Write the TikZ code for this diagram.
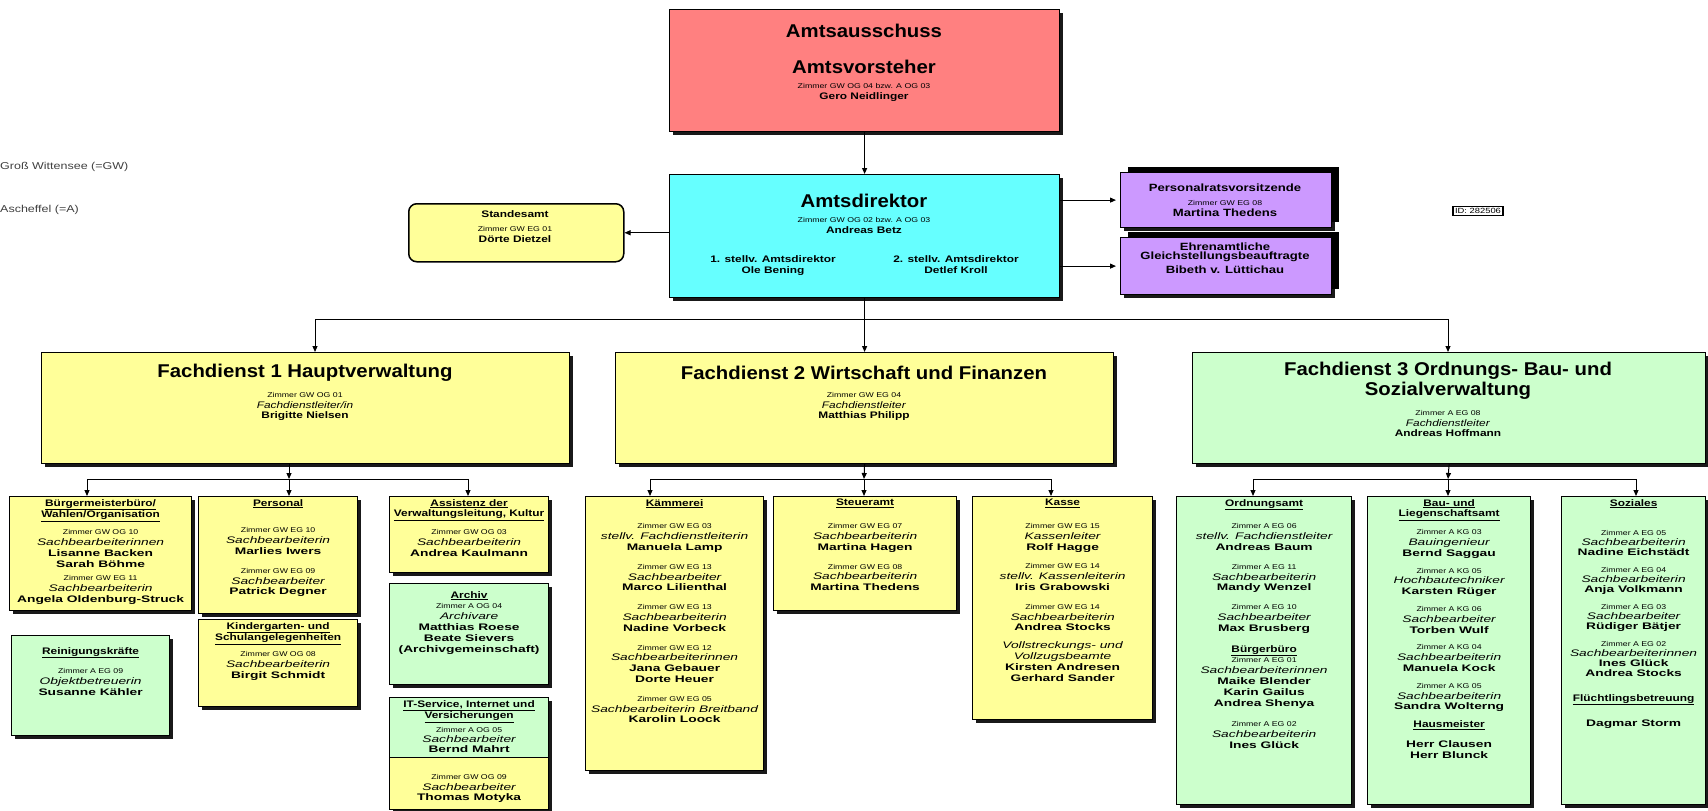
\documentclass[tikz,border=0pt]{standalone}
\usepackage{fontspec}
\setmainfont{Liberation Sans}[FakeStretch=1.25]
\newfontfamily\titlefont{Liberation Sans}[FakeStretch=1.1]
\newfontfamily\widefont{Liberation Sans}[FakeStretch=1.45]
\usepackage{tikz}
\usetikzlibrary{arrows.meta,positioning,calc,shadows}
\usepackage{xcolor}
\definecolor{amtred}{RGB}{255,128,128}
\definecolor{amtcyan}{RGB}{102,255,255}
\definecolor{amtlilac}{RGB}{204,153,255}
\definecolor{amtyellow}{RGB}{255,255,153}
\definecolor{amtgreen}{RGB}{204,255,204}
\newcommand{\zi}[1]{{\fontsize{7}{8}\selectfont #1}}
\newcommand{\pname}[1]{{\widefont\bfseries #1}}
\newcommand{\role}[1]{{\widefont\itshape #1}}
\newcommand{\unithead}[1]{\textbf{\underline{#1}}}

\begin{document}
\begin{tikzpicture}[x=1pt, y=-1pt,
    unit/.style={rectangle, draw=black, line width=1.2pt, anchor=north west, inner sep=0pt,
        drop shadow={shadow xshift=3pt, shadow yshift=-3pt, fill=black, opacity=0.9}},
    unitup/.style={unit, drop shadow={shadow xshift=7pt, shadow yshift=6pt, fill=black, opacity=1}},
    txt/.style={anchor=north, align=center, inner sep=0pt, font=\fontsize{9.5}{10.8}\selectfont},
    title/.style={align=center, inner sep=0pt, font=\titlefont\fontsize{18.5}{20}\selectfont\bfseries},
    arr/.style={-{Triangle[length=6pt, width=5pt]}, line width=1pt},
    bus/.style={line width=1pt}
]
    \fill[white] (0,0) rectangle (1708,811);
    \useasboundingbox (0,0) rectangle (1708,811);

    \node[anchor=west, inner sep=0pt, font=\fontsize{10}{12}\selectfont, text=black!75] (gw) at (0,167) {Groß Wittensee (=GW)};
    \node[anchor=west, inner sep=0pt, font=\fontsize{10}{12}\selectfont, text=black!75] (asch) at (0,210) {Ascheffel (=A)};
    \node[draw=black, line width=1.2pt, fill=white, inner sep=2pt, font=\fontsize{7.5}{9}\selectfont] (id) at (1478,211) {ID: 282506};

    % Leitung
    \node[unit, fill=amtred, minimum width=390, minimum height=122] (aus) at (669,9) {};
    \node[title] (ausname) at (864,31) {Amtsausschuss};
    \node[title] (vorname) at (864,67) {Amtsvorsteher};
    \node[txt] (vortxt) at (864,83) {\zi{Zimmer GW OG 04 bzw. A OG 03}\\\textbf{Gero Neidlinger}};

    \node[unit, fill=amtcyan, minimum width=390, minimum height=123] (dir) at (669,174) {};
    \node[title] (dirname) at (864,201) {Amtsdirektor};
    \node[txt] (dirtxt) at (864,217) {\zi{Zimmer GW OG 02 bzw. A OG 03}\\\textbf{Andreas Betz}};
    \node[txt, font=\fontsize{9.5}{11}\selectfont\bfseries] (stv1) at (773,255) {1. stellv. Amtsdirektor\\Ole Bening};
    \node[txt, font=\fontsize{9.5}{11}\selectfont\bfseries] (stv2) at (956,255) {2. stellv. Amtsdirektor\\Detlef Kroll};

    \node[rectangle, draw=black, line width=1.5pt, rounded corners=8pt, fill=amtyellow, anchor=north west,
        minimum width=215, minimum height=58] (std) at (408,203) {};
    \node[txt] (stdtxt) at (515,210) {\textbf{Standesamt}\\[4pt]\zi{Zimmer GW EG 01}\\\textbf{Dörte Dietzel}};

    \node[unitup, fill=amtlilac, minimum width=211, minimum height=55] (prv) at (1120,172) {};
    \node[txt, font=\fontsize{10.5}{11}\selectfont] (prvtxt) at (1225,184) {\textbf{Personalratsvorsitzende}\\[3pt]\zi{Zimmer GW EG 08}\\\textbf{Martina Thedens}};
    \node[unitup, fill=amtlilac, minimum width=211, minimum height=57] (gba) at (1120,237) {};
    \node[txt, font=\fontsize{10.5}{11}\selectfont] (gbatxt) at (1225,243) {\textbf{Ehrenamtliche}\\[-2pt]\textbf{Gleichstellungsbeauftragte}\\[3pt]\textbf{Bibeth v. Lüttichau}};

    % Fachdienste
    \node[unit, fill=amtyellow, minimum width=528, minimum height=111] (fd1) at (41,352) {};
    \node[title] (fd1name) at (305,373) {Fachdienst 1 Hauptverwaltung};
    \node[txt] (fd1txt) at (305,392) {\zi{Zimmer GW OG 01}\\\emph{Fachdienstleiter/in}\\\textbf{Brigitte Nielsen}};

    \node[unit, fill=amtyellow, minimum width=498, minimum height=111] (fd2) at (615,352) {};
    \node[title] (fd2name) at (864,373) {Fachdienst 2 Wirtschaft und Finanzen};
    \node[txt] (fd2txt) at (864,392) {\zi{Zimmer GW EG 04}\\\emph{Fachdienstleiter}\\\textbf{Matthias Philipp}};

    \node[unit, fill=amtgreen, minimum width=513, minimum height=111] (fd3) at (1192,352) {};
    \node[title] (fd3name) at (1448,381) {Fachdienst 3 Ordnungs- Bau- und\\Sozialverwaltung};
    \node[txt] (fd3txt) at (1448,410) {\zi{Zimmer A EG 08}\\\emph{Fachdienstleiter}\\\textbf{Andreas Hoffmann}};

    % Fachdienst 1
    \node[unit, fill=amtyellow, minimum width=182, minimum height=114] (bgm) at (9,496) {};
    \node[txt] (bgmtxt) at ([yshift=-3pt]bgm.north) {\unithead{Bürgermeisterbüro/}\\\unithead{Wahlen/Organisation}\\[6pt]
        \zi{Zimmer GW OG 10}\\\role{Sachbearbeiterinnen}\\\pname{Lisanne Backen}\\\pname{Sarah Böhme}\\[3pt]
        \zi{Zimmer GW EG 11}\\\role{Sachbearbeiterin}\\\pname{Angela Oldenburg-Struck}};
    \node[unit, fill=amtgreen, minimum width=158, minimum height=100] (rein) at (11,635) {};
    \node[txt] (reintxt) at ([yshift=-12pt]rein.north) {\unithead{Reinigungskräfte}\\[9pt]
        \zi{Zimmer A EG 09}\\\role{Objektbetreuerin}\\\pname{Susanne Kähler}};

    \node[unit, fill=amtyellow, minimum width=159, minimum height=117] (pers) at (198,496) {};
    \node[txt] (perstxt) at ([yshift=-3pt]pers.north) {\unithead{Personal}\\[16pt]
        \zi{Zimmer GW EG 10}\\\role{Sachbearbeiterin}\\\pname{Marlies Iwers}\\[8pt]
        \zi{Zimmer GW EG 09}\\\role{Sachbearbeiter}\\\pname{Patrick Degner}};
    \node[unit, fill=amtyellow, minimum width=159, minimum height=87] (kita) at (198,619) {};
    \node[txt] (kitatxt) at ([yshift=-3pt]kita.north) {\unithead{Kindergarten- und}\\\unithead{Schulangelegenheiten}\\[5pt]
        \zi{Zimmer GW OG 08}\\\role{Sachbearbeiterin}\\\pname{Birgit Schmidt}};

    \node[unit, fill=amtyellow, minimum width=159, minimum height=76] (assi) at (389,496) {};
    \node[txt] (assitxt) at ([yshift=-3pt]assi.north) {\unithead{Assistenz der}\\\unithead{Verwaltungsleitung, Kultur}\\[7pt]
        \zi{Zimmer GW OG 03}\\\role{Sachbearbeiterin}\\\pname{Andrea Kaulmann}};
    \node[unit, fill=amtgreen, minimum width=159, minimum height=101] (arch) at (389,583) {};
    \node[txt] (archtxt) at ([yshift=-8pt]arch.north) {\unithead{Archiv}\\\zi{Zimmer A OG 04}\\\role{Archivare}\\
        \pname{Matthias Roese}\\\pname{Beate Sievers}\\\pname{(Archivgemeinschaft)}};
    \node[unit, fill=amtgreen, minimum width=159, minimum height=60] (its) at (389,697) {};
    \node[txt, font=\fontsize{9.5}{10}\selectfont] (itstxt) at ([yshift=-3pt]its.north) {\unithead{IT-Service, Internet und}\\\unithead{Versicherungen}\\[4pt]
        \zi{Zimmer A OG 05}\\\role{Sachbearbeiter}\\\pname{Bernd Mahrt}};
    \node[unit, fill=amtyellow, minimum width=159, minimum height=52] (moty) at (389,757) {};
    \node[txt] (motytxt) at ([yshift=-17pt]moty.north) {\zi{Zimmer GW OG 09}\\\role{Sachbearbeiter}\\\pname{Thomas Motyka}};

    % Fachdienst 2
    \node[unit, fill=amtyellow, minimum width=178, minimum height=274] (kaem) at (585,496) {};
    \node[txt] (kaemtxt) at ([yshift=-3pt]kaem.north) {\unithead{Kämmerei}\\[12pt]
        \zi{Zimmer GW EG 03}\\\role{stellv. Fachdienstleiterin}\\\pname{Manuela Lamp}\\[8pt]
        \zi{Zimmer GW EG 13}\\\role{Sachbearbeiter}\\\pname{Marco Lilienthal}\\[8pt]
        \zi{Zimmer GW EG 13}\\\role{Sachbearbeiterin}\\\pname{Nadine Vorbeck}\\[8pt]
        \zi{Zimmer GW EG 12}\\\role{Sachbearbeiterinnen}\\\pname{Jana Gebauer}\\\pname{Dorte Heuer}\\[8pt]
        \zi{Zimmer GW EG 05}\\\role{Sachbearbeiterin Breitband}\\\pname{Karolin Loock}};

    \node[unit, fill=amtyellow, minimum width=183, minimum height=114] (steu) at (773,496) {};
    \node[txt] (steutxt) at ([yshift=-3pt]steu.north) {\unithead{Steueramt}\\[12pt]
        \zi{Zimmer GW EG 07}\\\role{Sachbearbeiterin}\\\pname{Martina Hagen}\\[8pt]
        \zi{Zimmer GW EG 08}\\\role{Sachbearbeiterin}\\\pname{Martina Thedens}};

    \node[unit, fill=amtyellow, minimum width=180, minimum height=223] (kass) at (972,496) {};
    \node[txt] (kasstxt) at ([yshift=-3pt]kass.north) {\unithead{Kasse}\\[12pt]
        \zi{Zimmer GW EG 15}\\\role{Kassenleiter}\\\pname{Rolf Hagge}\\[8pt]
        \zi{Zimmer GW EG 14}\\\role{stellv. Kassenleiterin}\\\pname{Iris Grabowski}\\[8pt]
        \zi{Zimmer GW EG 14}\\\role{Sachbearbeiterin}\\\pname{Andrea Stocks}\\[7pt]
        \role{Vollstreckungs- und}\\\role{Vollzugsbeamte}\\\pname{Kirsten Andresen}\\\pname{Gerhard Sander}};

    % Fachdienst 3
    \node[unit, fill=amtgreen, minimum width=175, minimum height=308] (ordn) at (1176,496) {};
    \node[txt] (ordntxt) at ([yshift=-3pt]ordn.north) {\unithead{Ordnungsamt}\\[12pt]
        \zi{Zimmer A EG 06}\\\role{stellv. Fachdienstleiter}\\\pname{Andreas Baum}\\[8pt]
        \zi{Zimmer A EG 11}\\\role{Sachbearbeiterin}\\\pname{Mandy Wenzel}\\[8pt]
        \zi{Zimmer A EG 10}\\\role{Sachbearbeiter}\\\pname{Max Brusberg}\\[10pt]
        \unithead{Bürgerbüro}\\\zi{Zimmer A EG 01}\\\role{Sachbearbeiterinnen}\\
        \pname{Maike Blender}\\\pname{Karin Gailus}\\\pname{Andrea Shenya}\\[10pt]
        \zi{Zimmer A EG 02}\\\role{Sachbearbeiterin}\\\pname{Ines Glück}};

    \node[unit, fill=amtgreen, minimum width=163, minimum height=308] (baul) at (1367,496) {};
    \node[txt] (baultxt) at ([yshift=-3pt]baul.north) {\unithead{Bau- und}\\\unithead{Liegenschaftsamt}\\[7pt]
        \zi{Zimmer A KG 03}\\\role{Bauingenieur}\\\pname{Bernd Saggau}\\[6pt]
        \zi{Zimmer A KG 05}\\\role{Hochbautechniker}\\\pname{Karsten Rüger}\\[6pt]
        \zi{Zimmer A KG 06}\\\role{Sachbearbeiter}\\\pname{Torben Wulf}\\[6pt]
        \zi{Zimmer A KG 04}\\\role{Sachbearbeiterin}\\\pname{Manuela Kock}\\[6pt]
        \zi{Zimmer A KG 05}\\\role{Sachbearbeiterin}\\\pname{Sandra Wolterng}\\[7pt]
        \unithead{Hausmeister}\\[9pt]\pname{Herr Clausen}\\\pname{Herr Blunck}};

    \node[unit, fill=amtgreen, minimum width=144, minimum height=308] (soz) at (1561,496) {};
    \node[txt, font=\fontsize{9.5}{10}\selectfont] (soztxt) at ([yshift=-3pt]soz.north) {\unithead{Soziales}\\[19pt]
        \zi{Zimmer A EG 05}\\\role{Sachbearbeiterin}\\\pname{Nadine Eichstädt}\\[7pt]
        \zi{Zimmer A EG 04}\\\role{Sachbearbeiterin}\\\pname{Anja Volkmann}\\[7pt]
        \zi{Zimmer A EG 03}\\\role{Sachbearbeiter}\\\pname{Rüdiger Bätjer}\\[7pt]
        \zi{Zimmer A EG 02}\\\role{Sachbearbeiterinnen}\\\pname{Ines Glück}\\\pname{Andrea Stocks}\\[15pt]
        \unithead{Flüchtlingsbetreuung}\\[14pt]\pname{Dagmar Storm}};

    % connectors
    \draw[arr] (aus.south) -- (dir.north);
    \draw[arr] (std.east -| dir.west) -- (std.east);
    \draw[arr] (dir.east |- prv.west) -- ([xshift=-4pt]prv.west);
    \draw[arr] (dir.east |- gba.west) -- ([xshift=-4pt]gba.west);

    \coordinate (top1) at (315,319);
    \coordinate (top3) at (1448,319);
    \draw[bus] (top1) -- (top3);
    \draw[arr] (dir.south) -- (fd2.north);
    \draw[arr] (top1) -- (top1 |- fd1.north);
    \draw[arr] (top3) -- (top3 |- fd3.north);

    \coordinate (s1a) at (87,479);
    \coordinate (s1b) at (289,479);
    \coordinate (s1c) at (468,479);
    \draw[arr] (fd1.south -| s1b) -- (s1b);
    \draw[bus] (s1a) -- (s1c);
    \draw[arr] (s1a) -- (s1a |- bgm.north);
    \draw[arr] (s1b) -- (s1b |- pers.north);
    \draw[arr] (s1c) -- (s1c |- assi.north);

    \coordinate (s2a) at (650,479);
    \coordinate (s2b) at (864,479);
    \coordinate (s2c) at (1051,479);
    \draw[arr] (fd2.south) -- (s2b);
    \draw[bus] (s2a) -- (s2c);
    \draw[arr] (s2a) -- (s2a |- kaem.north);
    \draw[arr] (s2b) -- (s2b |- steu.north);
    \draw[arr] (s2c) -- (s2c |- kass.north);

    \coordinate (s3a) at (1253,479);
    \coordinate (s3b) at (1448,479);
    \coordinate (s3c) at (1636,479);
    \draw[arr] (fd3.south) -- (s3b);
    \draw[bus] (s3a) -- (s3c);
    \draw[arr] (s3a) -- (s3a |- ordn.north);
    \draw[arr] (s3b) -- (s3b |- baul.north);
    \draw[arr] (s3c) -- (s3c |- soz.north);
\end{tikzpicture}
\end{document}
